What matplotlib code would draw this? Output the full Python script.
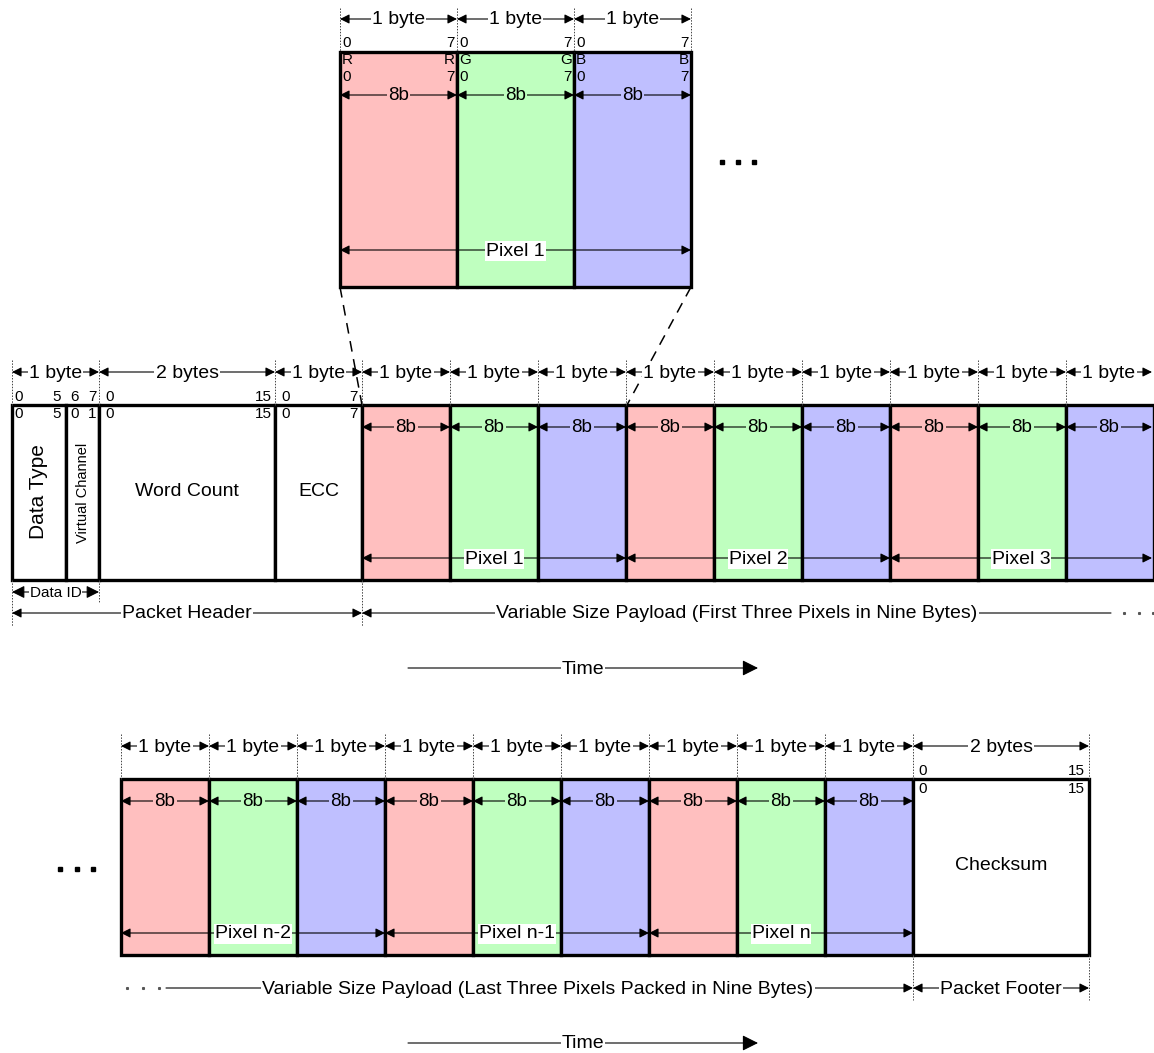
import matplotlib.pyplot as plt
from matplotlib.patches import Rectangle

plt.rcParams['font.family'] = ['Liberation Sans', 'DejaVu Sans']

# Contenido del diagrama
colores_rgb = ["#FFBFBF", "#BFFFBF", "#BFBFFF"]
canales = ["R", "G", "B"]
etiqueta_byte = "1 byte"
etiqueta_bits = "8b"
campos_cabecera = ["Data Type", "Virtual Channel", "Word Count", "ECC"]
bytes_cabecera = ["1 byte", "2 bytes", "1 byte"]
pixeles_inicio = ["Pixel 1", "Pixel 2", "Pixel 3"]
pixeles_final = ["Pixel n-2", "Pixel n-1", "Pixel n"]
bits_cabecera_arriba = ["0", "5", "6", "7", "0", "15", "0", "7"]
bits_cabecera_dentro = ["0", "5", "0", "1", "0", "15", "0", "7"]
texto_cabecera = "Packet Header"
texto_id = "Data ID"
texto_carga_1 = "Variable Size Payload (First Three Pixels in Nine Bytes)"
texto_carga_2 = "Variable Size Payload (Last Three Pixels Packed in Nine Bytes)"
texto_checksum = "Checksum"
texto_pie = "Packet Footer"
bytes_pie = "2 bytes"
texto_tiempo = "Time"

# Geometría (pixeles)
W, H = 1154, 1053
BYTE = 88.0
LW_CAJA = 2.4
LW_FLECHA = 0.8
FS = 14
FS_BITS = 13.5
FS_NUM = 11

fig = plt.figure(figsize=(W / 100, H / 100), dpi=100)
ax = fig.add_axes([0, 0, 1, 1])
ax.set_xlim(0, W)
ax.set_ylim(H, 0)
ax.axis('off')


def flecha(x0, x1, y, texto=None, fs=FS, fondo='white', estilo='<|-|>', ms=14):
    ax.annotate('', xy=(x1, y), xytext=(x0, y),
                arrowprops=dict(arrowstyle=estilo, color='black', lw=LW_FLECHA,
                                shrinkA=0, shrinkB=0, mutation_scale=ms))
    if texto:
        ax.text((x0 + x1) / 2, y + 1, texto, ha='center', va='center', fontsize=fs,
                bbox=dict(boxstyle='square,pad=0.06', fc=fondo, ec='none'))


def guia(x, y0, y1):
    ax.plot([x, x], [y0, y1], color='#444444', lw=0.7, ls=(0, (1.5, 1.5)))


def caja(x, y, w, h, color='white'):
    ax.add_patch(Rectangle((x, y), w, h, fc=color, ec='black', lw=LW_CAJA))


def num(x, y, t, ha='left', fs=FS_NUM):
    ax.text(x, y, t, ha=ha, va='center', fontsize=fs)


# ---------------- Vista ampliada de un pixel ----------------
x0, ytop, ybot = 340, 52, 287
ancho_top = 117
for i in range(3):
    xa = x0 + i * ancho_top
    caja(xa, ytop, ancho_top, ybot - ytop, colores_rgb[i])
    flecha(xa, xa + ancho_top, 19, etiqueta_byte)
    num(xa + 2, 43, "0")
    num(xa + ancho_top - 2, 43, "7", ha='right')
    num(xa + 2, 60, canales[i])
    num(xa + ancho_top - 2, 60, canales[i], ha='right')
    num(xa + 2, 77, "0")
    num(xa + ancho_top - 2, 77, "7", ha='right')
    flecha(xa, xa + ancho_top, 95, etiqueta_bits, fs=FS_BITS, fondo=colores_rgb[i])
for i in range(4):
    guia(x0 + i * ancho_top, 8, ytop)
flecha(x0, x0 + 3 * ancho_top, 250, pixeles_inicio[0])
ax.plot([722, 738, 754], [162, 162, 162], 's', color='black', ms=2.8)

# líneas de zoom
ax.plot([340, 362], [287, 405], color='black', lw=1.1, ls=(0, (7, 5)))
ax.plot([691, 627], [287, 405], color='black', lw=1.1, ls=(0, (7, 5)))

# ---------------- Primera fila: cabecera + carga ----------------
yt, yb = 405, 580
bordes_cab = [12, 66, 99, 275, 362]
for i in range(4):
    caja(bordes_cab[i], yt, bordes_cab[i + 1] - bordes_cab[i], yb - yt)
ax.text(38, 492, campos_cabecera[0], rotation=90, ha='center', va='center', fontsize=15)
ax.text(83, 493, campos_cabecera[1], rotation=90, ha='center', va='center', fontsize=10.5)
ax.text(187, 492, campos_cabecera[2], ha='center', va='center', fontsize=FS)
ax.text(319, 492, campos_cabecera[3], ha='center', va='center', fontsize=FS)

limites_bytes_cab = [12, 99, 275, 362]
for i, et in enumerate(bytes_cabecera):
    flecha(limites_bytes_cab[i], limites_bytes_cab[i + 1], 372, et)

xs_arriba = [14, 61, 70, 97, 105, 272, 281, 358]
xs_dentro = [14, 61, 70, 96, 105, 272, 281, 358]
alin = ['left', 'right', 'left', 'right', 'left', 'right', 'left', 'right']
for xa, t, a in zip(xs_arriba, bits_cabecera_arriba, alin):
    num(xa, 397, t, ha=a)
for xa, t, a in zip(xs_dentro, bits_cabecera_dentro, alin):
    num(xa, 414, t, ha=a)

inicio_carga = 362
for i in range(9):
    xa = inicio_carga + i * BYTE
    caja(xa, yt, BYTE, yb - yt, colores_rgb[i % 3])
    flecha(xa, min(xa + BYTE, 1152), 372, etiqueta_byte)
    flecha(xa, min(xa + BYTE, 1152), 427, etiqueta_bits, fs=FS_BITS, fondo=colores_rgb[i % 3])
for i in range(3):
    xa = inicio_carga + 3 * i * BYTE
    flecha(xa, min(xa + 3 * BYTE, 1152), 558, pixeles_inicio[i])
for xa in limites_bytes_cab + [inicio_carga + i * BYTE for i in range(1, 9)]:
    guia(xa, 360, yt)

guia(12, yb, 626)
guia(99, yb, 602)
guia(362, yb, 626)
flecha(12, 99, 592, texto_id, fs=11, ms=19)
flecha(12, 362, 613, texto_cabecera)
flecha(362, 1111, 613, None, estilo='<|-')
ax.text(737, 614, texto_carga_1, ha='center', va='center', fontsize=FS,
        bbox=dict(boxstyle='square,pad=0.06', fc='white', ec='none'))
ax.plot([1124, 1139, 1153], [613, 613, 613], 's', color='#555555', ms=1.2)

flecha(408, 758, 668, texto_tiempo, estilo='-|>', ms=24)

# ---------------- Segunda fila: carga final + pie ----------------
yt2, yb2 = 779, 955
inicio2 = 121
for i in range(9):
    xa = inicio2 + i * BYTE
    caja(xa, yt2, BYTE, yb2 - yt2, colores_rgb[i % 3])
    flecha(xa, xa + BYTE, 746, etiqueta_byte)
    flecha(xa, xa + BYTE, 801, etiqueta_bits, fs=FS_BITS, fondo=colores_rgb[i % 3])
for i in range(3):
    xa = inicio2 + 3 * i * BYTE
    flecha(xa, xa + 3 * BYTE, 933, pixeles_final[i])
fin2 = inicio2 + 9 * BYTE
caja(fin2, yt2, 176, yb2 - yt2)
ax.text(fin2 + 88, 866, texto_checksum, ha='center', va='center', fontsize=FS)
flecha(fin2, fin2 + 176, 746, bytes_pie)
num(fin2 + 5, 771, "0")
num(fin2 + 172, 771, "15", ha='right')
num(fin2 + 5, 789, "0")
num(fin2 + 172, 789, "15", ha='right')
for i in range(10):
    guia(inicio2 + i * BYTE, 734, yt2)
guia(fin2 + 176, 734, yt2)
guia(fin2, yb2, 1000)
guia(fin2 + 176, yb2, 1000)
ax.plot([60, 77, 93], [869, 869, 869], 's', color='black', ms=2.8)

ax.plot([127, 143, 159], [988, 988, 988], 's', color='#555555', ms=1.2)
flecha(166, fin2, 988, None, estilo='-|>')
ax.text(538, 989, texto_carga_2, ha='center', va='center', fontsize=FS,
        bbox=dict(boxstyle='square,pad=0.06', fc='white', ec='none'))
flecha(fin2, fin2 + 176, 988, texto_pie)

flecha(408, 758, 1043, texto_tiempo, estilo='-|>', ms=24)

fig.savefig('out.png', dpi=100)
